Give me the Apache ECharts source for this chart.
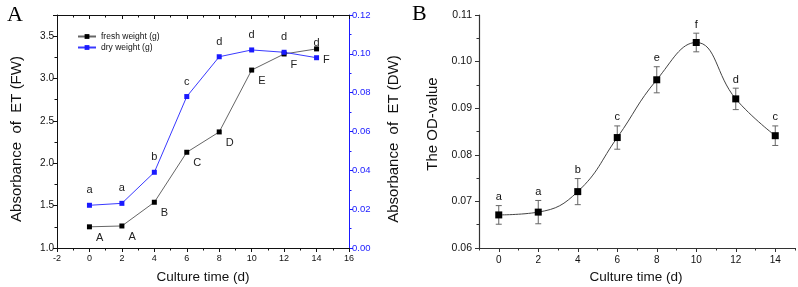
<!DOCTYPE html>
<html><head><meta charset="utf-8">
<script src="https://cdn.jsdelivr.net/npm/echarts@6/dist/echarts.min.js"></script>
<style>html,body{margin:0;padding:0;background:#fff}#c{width:798px;height:287px}</style>
</head><body><div id="c"></div>
<script>
// ---- Panel A data ----
const daysA = [0, 2, 4, 6, 8, 10, 12, 14];
const freshWeight = [1.25, 1.26, 1.54, 2.13, 2.37, 3.10, 3.29, 3.35];
const dryWeight = [0.022, 0.023, 0.039, 0.078, 0.0985, 0.102, 0.1008, 0.098];
const freshLetters = ['A', 'A', 'B', 'C', 'D', 'E', 'F', 'F'];
const dryLetters = ['a', 'a', 'b', 'c', 'd', 'd', 'd', 'd'];
// ---- Panel B data ----
const daysB = [0, 2, 4, 6, 8, 10, 12, 14];
const odValue = [0.0671, 0.0677, 0.0721, 0.0837, 0.0961, 0.1041, 0.0920, 0.0841];
const odError = [0.0020, 0.0025, 0.0028, 0.0025, 0.0028, 0.0020, 0.0023, 0.0021];
const odLetters = ['a', 'a', 'b', 'c', 'e', 'f', 'd', 'c'];
const xTickLabelsB = [0, 2, 4, 6, 8, 10, 12, 14];

const FONT = 'Liberation Sans';
const BLUE = '#1a1aff';
const chart = echarts.init(document.getElementById('c'), null, {renderer: 'canvas'});

const option = {
  animation: false,
  backgroundColor: '#fff',
  textStyle: {fontFamily: FONT},
  grid: [
    {left: 57, right: 449, top: 15, bottom: 39, containLabel: false, outerBoundsMode: 'none'},
    {left: 479, right: 3, top: 15, bottom: 39, containLabel: false, outerBoundsMode: 'none'}
  ],
  legend: {
    data: ['fresh weight (g)', 'dry weight (g)'],
    orient: 'vertical', left: 72, top: 27,
    itemWidth: 18, itemHeight: 6, itemGap: 2,
    textStyle: {fontSize: 8.5, color: '#111', fontFamily: FONT}
  },
  xAxis: [
    { // A bottom
      type: 'value', gridIndex: 0, position: 'bottom', min: -2, max: 16, interval: 2,
      axisLine: {show: true, onZero: false, lineStyle: {color: '#111', width: 1}},
      axisTick: {show: true, inside: false, length: 4, lineStyle: {color: '#111'}},
      minorTick: {show: true, splitNumber: 2, length: 2.5, lineStyle: {color: '#111'}},
      axisLabel: {fontSize: 9, color: '#111', margin: 6, fontFamily: FONT},
      splitLine: {show: false}
    },
    { // A top border
      type: 'value', gridIndex: 0, position: 'top', min: -2, max: 16, interval: 2,
      axisLine: {show: true, onZero: false, lineStyle: {color: '#111', width: 1}},
      axisTick: {show: true, inside: true, length: 4, lineStyle: {color: '#111'}},
      minorTick: {show: true, splitNumber: 2, length: 2.5, lineStyle: {color: '#111'}},
      axisLabel: {show: false},
      splitLine: {show: false}
    },
    { // B main
      type: 'value', gridIndex: 1, position: 'bottom', min: -1, max: 15,
      axisLine: {show: true, onZero: false, lineStyle: {color: '#333', width: 1.2}},
      axisTick: {show: true, inside: false, length: 4, customValues: xTickLabelsB, lineStyle: {color: '#333'}},
      axisLabel: {fontSize: 10, color: '#111', margin: 7, customValues: xTickLabelsB, fontFamily: FONT},
      splitLine: {show: false}
    },
    { // B minor ticks
      type: 'value', gridIndex: 1, position: 'bottom', min: -1, max: 15, interval: 1,
      axisLine: {show: false, onZero: false},
      axisTick: {show: true, inside: false, length: 2.5, lineStyle: {color: '#333'}},
      axisLabel: {show: false},
      splitLine: {show: false}
    }
  ],
  yAxis: [
    { // A left
      type: 'value', gridIndex: 0, position: 'left', min: 1, max: 3.75, interval: 0.5,
      axisLine: {show: true, onZero: false, lineStyle: {color: '#111', width: 1}},
      axisTick: {show: true, inside: false, length: 4, lineStyle: {color: '#111'}},
      minorTick: {show: true, splitNumber: 2, length: 2.5, lineStyle: {color: '#111'}},
      axisLabel: {fontSize: 10, color: '#111', margin: 3, showMaxLabel: false,
        formatter: v => v.toFixed(1), fontFamily: FONT},
      splitLine: {show: false}
    },
    { // A right (blue)
      type: 'value', gridIndex: 0, position: 'right', min: 0, max: 0.12, interval: 0.02,
      axisLine: {show: true, onZero: false, lineStyle: {color: BLUE, width: 1}},
      axisTick: {show: true, inside: false, length: 4, lineStyle: {color: BLUE}},
      minorTick: {show: true, splitNumber: 2, length: 2.5, lineStyle: {color: BLUE}},
      axisLabel: {fontSize: 9.5, color: BLUE, margin: 3, formatter: v => v.toFixed(2), fontFamily: FONT},
      splitLine: {show: false}
    },
    { // B
      type: 'value', gridIndex: 1, position: 'left', min: 0.06, max: 0.11, interval: 0.01,
      axisLine: {show: true, onZero: false, lineStyle: {color: '#333', width: 1.2}},
      axisTick: {show: true, inside: false, length: 4, lineStyle: {color: '#333'}},
      minorTick: {show: true, splitNumber: 2, length: 2.5, lineStyle: {color: '#333'}},
      axisLabel: {fontSize: 10.5, color: '#111', margin: 7, formatter: v => v.toFixed(2), fontFamily: FONT},
      splitLine: {show: false}
    }
  ],
  series: [
    {
      name: 'fresh weight (g)', type: 'line', xAxisIndex: 0, yAxisIndex: 0,
      data: daysA.map((d, i) => [d, freshWeight[i]]),
      symbol: 'rect', symbolSize: 5,
      itemStyle: {color: '#000'},
      lineStyle: {color: '#666', width: 1},
      label: {show: true, position: 'right', distance: 4, offset: [0, 11],
        formatter: p => freshLetters[p.dataIndex], fontSize: 11, color: '#222', fontFamily: FONT}
    },
    {
      name: 'dry weight (g)', type: 'line', xAxisIndex: 0, yAxisIndex: 1,
      data: daysA.map((d, i) => [d, dryWeight[i]]),
      symbol: 'rect', symbolSize: 5,
      itemStyle: {color: BLUE},
      lineStyle: {color: '#3a3aff', width: 1},
      label: {show: true, position: 'top', distance: 7,
        formatter: p => dryLetters[p.dataIndex], fontSize: 11, color: '#222', fontFamily: FONT}
    },
    {
      name: 'OD', type: 'line', xAxisIndex: 2, yAxisIndex: 2,
      data: daysB.map((d, i) => [d, odValue[i]]),
      smooth: 0.45,
      symbol: 'rect', symbolSize: 7,
      itemStyle: {color: '#000'},
      lineStyle: {color: '#444', width: 1},
      z: 3
    },
    {
      name: 'OD error', type: 'custom', xAxisIndex: 2, yAxisIndex: 2,
      data: daysB.map((d, i) => [d, odValue[i], odError[i]]),
      z: 2,
      renderItem: function (params, api) {
        const x = api.value(0), y = api.value(1), e = api.value(2);
        const top = api.coord([x, y + e]);
        const bot = api.coord([x, y - e]);
        const w = 3;
        const st = {stroke: '#666', lineWidth: 1};
        return {
          type: 'group', children: [
            {type: 'line', shape: {x1: top[0], y1: top[1], x2: bot[0], y2: bot[1]}, style: st},
            {type: 'line', shape: {x1: top[0] - w, y1: top[1], x2: top[0] + w, y2: top[1]}, style: st},
            {type: 'line', shape: {x1: bot[0] - w, y1: bot[1], x2: bot[0] + w, y2: bot[1]}, style: st},
            {type: 'text', style: {text: odLetters[params.dataIndex], x: top[0], y: top[1] - 3,
              textAlign: 'center', textVerticalAlign: 'bottom', fontSize: 11, fill: '#111', fontFamily: FONT}}
          ]
        };
      }
    }
  ],
  graphic: [
    {type: 'text', left: 7, top: 4, style: {text: 'A', fontSize: 22, fontFamily: 'Liberation Serif', fill: '#000'}},
    {type: 'text', left: 412, top: 3, style: {text: 'B', fontSize: 22, fontFamily: 'Liberation Serif', fill: '#000'}},
    {type: 'text', x: 17, y: 139, rotation: Math.PI / 2,
      style: {text: 'Absorbance  of  ET (FW)', fontSize: 15, fontFamily: FONT, fill: '#111', textAlign: 'center', textVerticalAlign: 'middle'}},
    {type: 'text', x: 394, y: 139, rotation: Math.PI / 2,
      style: {text: 'Absorbance  of  ET (DW)', fontSize: 15, fontFamily: FONT, fill: '#111', textAlign: 'center', textVerticalAlign: 'middle'}},
    {type: 'text', x: 203, y: 277,
      style: {text: 'Culture time (d)', fontSize: 13.5, fontFamily: FONT, fill: '#111', textAlign: 'center', textVerticalAlign: 'middle'}},
    {type: 'text', x: 433, y: 124, rotation: Math.PI / 2,
      style: {text: 'The OD-value', fontSize: 15, fontFamily: FONT, fill: '#111', textAlign: 'center', textVerticalAlign: 'middle'}},
    {type: 'text', x: 636, y: 277,
      style: {text: 'Culture time (d)', fontSize: 13.5, fontFamily: FONT, fill: '#111', textAlign: 'center', textVerticalAlign: 'middle'}}
  ]
};
chart.setOption(option);
</script>
</body></html>
